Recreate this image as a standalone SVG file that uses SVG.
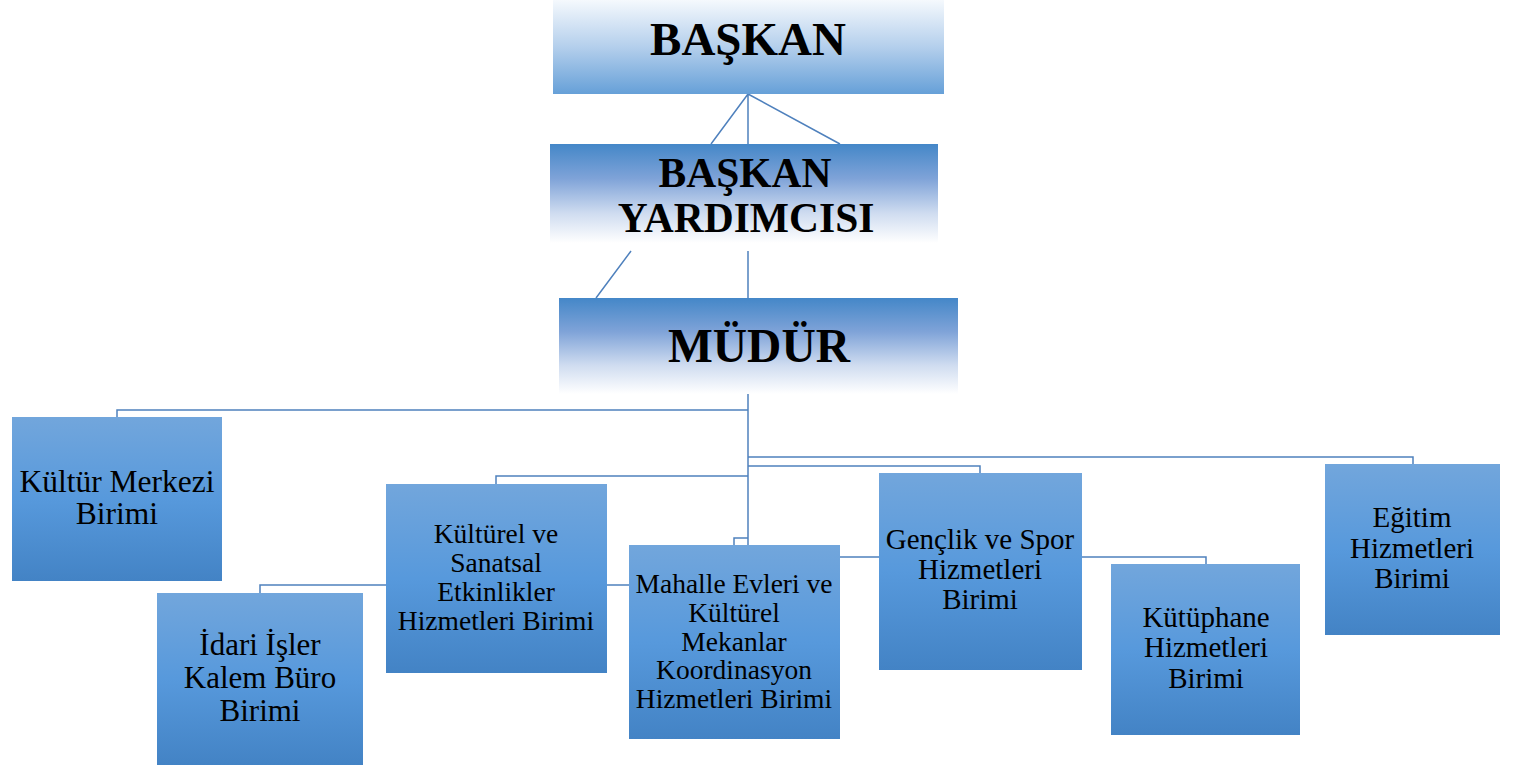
<svg xmlns="http://www.w3.org/2000/svg" width="1525" height="773" viewBox="0 0 1525 773">
<defs>
<linearGradient id="gTop" x1="0" y1="0" x2="0" y2="1">
<stop offset="0" stop-color="#f5f9fd"/><stop offset="0.5" stop-color="#b4cfec"/><stop offset="1" stop-color="#66a0d8"/>
</linearGradient>
<linearGradient id="gMid" x1="0" y1="0" x2="0" y2="1">
<stop offset="0" stop-color="#4487c8"/><stop offset="0.35" stop-color="#7fa3d8"/><stop offset="0.7" stop-color="#cfdcf0"/><stop offset="1" stop-color="#ffffff"/>
</linearGradient>
<linearGradient id="gBox" x1="0" y1="0" x2="0" y2="1">
<stop offset="0" stop-color="#72a6dc"/><stop offset="0.5" stop-color="#5799dc"/><stop offset="1" stop-color="#4383c5"/>
</linearGradient>
<style>
.ln{fill:none;stroke:#4f81bd;stroke-width:1.5}
.bx{fill:url(#gBox)}
.hd{font-family:"Liberation Serif","Times New Roman",serif;font-weight:bold;fill:#000;text-anchor:middle}
.tx{font-family:"Liberation Serif","Times New Roman",serif;fill:#000;text-anchor:middle}
</style>
</defs>
<g id="connectors">
<path class="ln" d="M748,94 L711,144 M748,94 L748,144 M748,94 L840,144"/>
<path class="ln" d="M631,251 L596,298 M748,251 L748,298"/>
<path class="ln" d="M748,394 L748,545"/>
<path class="ln" d="M748,410 L117,410 L117,417"/>
<path class="ln" d="M748,476 L496,476 L496,484"/>
<path class="ln" d="M748,585 L260,585 L260,593"/>
<path class="ln" d="M748,538 L734,538 L734,545"/>
<path class="ln" d="M748,457 L1413,457 L1413,464"/>
<path class="ln" d="M748,466 L980,466 L980,473"/>
<path class="ln" d="M748,557 L1206,557 L1206,564"/>
</g>
<g id="baskan">
<rect x="553" y="0" width="391" height="94" fill="url(#gTop)"/>
<text class="hd" x="748" y="55" font-size="47">BAŞKAN</text>
</g>
<g id="baskan-yardimcisi">
<rect x="550" y="144" width="388" height="99" fill="url(#gMid)"/>
<text class="hd" x="745" y="187" font-size="41.5">BAŞKAN</text>
<text class="hd" x="746" y="232" font-size="41.5">YARDIMCISI</text>
</g>
<g id="mudur">
<rect x="559" y="298" width="399" height="96" fill="url(#gMid)"/>
<text class="hd" x="759" y="362" font-size="47.5">MÜDÜR</text>
</g>
<g id="kultur-merkezi">
<rect class="bx" x="12" y="417" width="210" height="164"/>
<text class="tx" x="117" y="492" font-size="31.5">Kültür Merkezi</text>
<text class="tx" x="117" y="524" font-size="31.5">Birimi</text>
</g>
<g id="kulturel-sanatsal">
<rect class="bx" x="386" y="484" width="221" height="189"/>
<text class="tx" x="496" y="543" font-size="27.5">Kültürel ve</text>
<text class="tx" x="496" y="572" font-size="27.5">Sanatsal</text>
<text class="tx" x="496" y="601" font-size="27.5">Etkinlikler</text>
<text class="tx" x="496" y="630" font-size="27.5">Hizmetleri Birimi</text>
</g>
<g id="idari-isler">
<rect class="bx" x="157" y="593" width="206" height="172"/>
<text class="tx" x="260" y="655" font-size="31">İdari İşler</text>
<text class="tx" x="260" y="688" font-size="31">Kalem Büro</text>
<text class="tx" x="260" y="721" font-size="31">Birimi</text>
</g>
<g id="mahalle-evleri">
<rect class="bx" x="629" y="545" width="211" height="194"/>
<text class="tx" x="734" y="593" font-size="27.5">Mahalle Evleri ve</text>
<text class="tx" x="734" y="622" font-size="27.5">Kültürel</text>
<text class="tx" x="734" y="651" font-size="27.5">Mekanlar</text>
<text class="tx" x="734" y="679" font-size="27.5">Koordinasyon</text>
<text class="tx" x="734" y="708" font-size="27.5">Hizmetleri Birimi</text>
</g>
<g id="genclik-spor">
<rect class="bx" x="879" y="473" width="203" height="197"/>
<text class="tx" x="980" y="549" font-size="29">Gençlik ve Spor</text>
<text class="tx" x="980" y="579" font-size="29">Hizmetleri</text>
<text class="tx" x="980" y="609" font-size="29">Birimi</text>
</g>
<g id="kutuphane">
<rect class="bx" x="1111" y="564" width="189" height="171"/>
<text class="tx" x="1206" y="627" font-size="29">Kütüphane</text>
<text class="tx" x="1206" y="657" font-size="29">Hizmetleri</text>
<text class="tx" x="1206" y="688" font-size="29">Birimi</text>
</g>
<g id="egitim">
<rect class="bx" x="1325" y="464" width="175" height="171"/>
<text class="tx" x="1412" y="527" font-size="29">Eğitim</text>
<text class="tx" x="1412" y="558" font-size="29">Hizmetleri</text>
<text class="tx" x="1412" y="588" font-size="29">Birimi</text>
</g>
</svg>
